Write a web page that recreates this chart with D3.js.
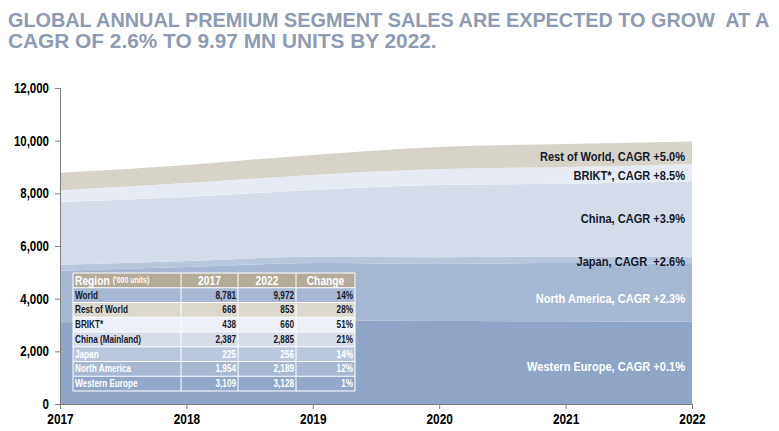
<!DOCTYPE html>
<html>
<head>
<meta charset="utf-8">
<script src="https://cdn.jsdelivr.net/npm/d3@7"></script>
<style>
  html, body { margin: 0; padding: 0; background: #ffffff; }
  svg { display: block; }
  text { font-family: "Liberation Sans", Arial, sans-serif; font-weight: bold; white-space: pre; }
</style>
</head>
<body>
<svg id="chart" width="779" height="431"></svg>
<script>
// ---- data ----
const years = [2017, 2018, 2019, 2020, 2021, 2022];
const westernEurope = [3109, 3140, 3160, 3150, 3140, 3128];
const northAmerica  = [1954, 2060, 2190, 2170, 2210, 2189];
const japan         = [225, 230, 240, 250, 255, 256];
const china         = [2387, 2430, 2540, 2750, 2755, 2885];
const brikt         = [438, 530, 570, 600, 640, 660];
const restOfWorld   = [668, 690, 760, 840, 870, 853];

const seriesKeys   = ["Western Europe", "North America", "Japan", "China", "BRIKT*", "Rest of World"];
const seriesLabels = ["Western Europe, CAGR +0.1%", "North America, CAGR +2.3%", "Japan, CAGR  +2.6%",
                      "China, CAGR +3.9%", "BRIKT*, CAGR +8.5%", "Rest of World, CAGR +5.0%"];
const yTicks = [0, 2000, 4000, 6000, 8000, 10000, 12000];

const titleLines = ["GLOBAL ANNUAL PREMIUM SEGMENT SALES ARE EXPECTED TO GROW  AT A",
                    "CAGR OF 2.6% TO 9.97 MN UNITS BY 2022."];

const tableHeader  = ["Region", "2017", "2022", "Change"];
const tableUnits   = "('000 units)";
const tableRegions = ["World", "Rest of World", "BRIKT*", "China (Mainland)", "Japan", "North America", "Western Europe"];
const table2017    = ["8,781", "668", "438", "2,387", "225", "1,954", "3,109"];
const table2022    = ["9,972", "853", "660", "2,885", "256", "2,189", "3,128"];
const tableChange  = ["14%", "28%", "51%", "21%", "14%", "12%", "1%"];

// ---- styles ----
const areaColors  = ["#8fa5c7", "#a7b8d3", "#b9c7dc", "#d3dce8", "#e7ecf4", "#d7d3c9"];
const labelColors = ["#ffffff", "#ffffff", "#141a2c", "#141a2c", "#141a2c", "#141a2c"];
const rowFills    = ["#a8b8d3", "#dcd8cd", "#edf0f6", "#d6dde9", "#bac7dc", "#a8b8d2", "#93a8c9"];
const rowText     = ["#141a2c", "#141a2c", "#141a2c", "#141a2c", "#ffffff", "#ffffff", "#ffffff"];
const NARROW = 0.82;

// horizontally condense a text element around its anchor point (Arial -> Arial Narrow proportions)
function narrow(sel, f) {
  const k = f || NARROW;
  sel.each(function () {
    const t = d3.select(this);
    const tx = +(t.attr("x") || 0), ty = +(t.attr("y") || 0);
    t.attr("x", 0).attr("y", 0).attr("transform", `translate(${tx},${ty}) scale(${k},1)`);
  });
}

const svg = d3.select("#chart");

// title: squeeze each line horizontally to the reference width
const titleWidths = [762, 429];
svg.append("g").selectAll("text").data(titleLines).join("text")
  .attr("x", 0).attr("y", 0)
  .attr("fill", "#8e9bb2").attr("font-size", 20.5)
  .text(d => d)
  .each(function (d, i) {
    const len = this.getComputedTextLength();
    d3.select(this).attr("transform", `translate(8,${27 + i * 21}) scale(${titleWidths[i] / len},1)`);
  });

// scales
const x = d3.scaleLinear().domain([2017, 2022]).range([60, 692]);
const y = d3.scaleLinear().domain([0, 12000]).range([404, 88]);

const rows = years.map((yr, i) => ({
  year: yr,
  "Western Europe": westernEurope[i],
  "North America": northAmerica[i],
  "Japan": japan[i],
  "China": china[i],
  "BRIKT*": brikt[i],
  "Rest of World": restOfWorld[i]
}));

const stack = d3.stack().keys(seriesKeys)(rows);

const area = d3.area()
  .x(d => x(d.data.year))
  .y0(d => y(d[0]))
  .y1(d => y(d[1]))
  .curve(d3.curveMonotoneX);

svg.append("g").selectAll("path").data(stack).join("path")
  .attr("d", area)
  .attr("fill", (d, i) => areaColors[i]);

// axes
const yAxis = d3.axisLeft(y).tickValues(yTicks).tickSize(5).tickPadding(6).tickFormat(d3.format(","));
const gy = svg.append("g").attr("transform", "translate(60,0)").call(yAxis);
gy.select(".domain").attr("stroke", "#7f7f7f");
gy.selectAll(".tick line").attr("stroke", "#7f7f7f");
gy.selectAll(".tick text").attr("font-size", 14).attr("fill", "#000")
  .attr("font-family", "\"Liberation Sans\", Arial, sans-serif").attr("font-weight", "bold").call(narrow);

const xAxis = d3.axisBottom(x).tickValues(years).tickSize(5).tickPadding(5).tickFormat(d3.format("d"));
const gx = svg.append("g").attr("transform", "translate(0,404)").call(xAxis);
gx.select(".domain").attr("stroke", "#7f7f7f");
gx.selectAll(".tick line").attr("stroke", "#7f7f7f");
gx.selectAll(".tick text").attr("font-size", 14.5).attr("fill", "#000")
  .attr("font-family", "\"Liberation Sans\", Arial, sans-serif").attr("font-weight", "bold").call(narrow);

// series labels at right end
const last = years.length - 1;
const labelDy = [3, 5, 1, -1, 3, 4];
svg.append("g").selectAll("text").data(stack).join("text")
  .attr("x", 685)
  .attr("y", (d, i) => (y(d[last][0]) + y(d[last][1])) / 2 + labelDy[i])
  .attr("dy", "0.35em")
  .attr("text-anchor", "end")
  .attr("font-size", 13.5)
  .attr("fill", (d, i) => labelColors[i])
  .text((d, i) => seriesLabels[i])
  .call(narrow);

// table
const colX = [73, 181, 238, 296, 355];
const rowH = 14.75;
const tTop = 273;
const tg = svg.append("g");

// header
tg.append("rect").attr("x", colX[0]).attr("y", tTop).attr("width", colX[4] - colX[0]).attr("height", rowH)
  .attr("fill", "#b4ab9b");
const hdr = tg.append("text").attr("x", colX[0] + 2).attr("y", tTop + rowH / 2).attr("dy", "0.35em")
  .attr("fill", "#fff").attr("font-size", 12.5).text(tableHeader[0]);
const hdrW = hdr.node().getComputedTextLength() * NARROW;
hdr.call(narrow);
tg.append("text").attr("x", colX[0] + 2 + hdrW + 3).attr("y", tTop + rowH / 2).attr("dy", "0.35em")
  .attr("fill", "#fff").attr("font-size", 8.5).text(tableUnits).call(narrow);
tableHeader.slice(1).forEach((h, j) => {
  tg.append("text").attr("x", (colX[j + 1] + colX[j + 2]) / 2).attr("y", tTop + rowH / 2).attr("dy", "0.35em")
    .attr("text-anchor", "middle").attr("fill", "#fff").attr("font-size", 12.5).text(h).call(narrow);
});

tableRegions.forEach((r, i) => {
  const ry = tTop + rowH * (i + 1);
  tg.append("rect").attr("x", colX[0]).attr("y", ry).attr("width", colX[4] - colX[0]).attr("height", rowH)
    .attr("fill", rowFills[i]);
  const cells = [r, table2017[i], table2022[i], tableChange[i]];
  cells.forEach((c, j) => {
    tg.append("text")
      .attr("x", j === 0 ? colX[0] + 2 : colX[j + 1] - 2)
      .attr("y", ry + rowH / 2).attr("dy", "0.35em")
      .attr("text-anchor", j === 0 ? "start" : "end")
      .attr("fill", rowText[i]).attr("font-size", 10)
      .text(c).call(narrow);
  });
});

// white grid lines
for (let i = 0; i <= 8; i++) {
  tg.append("line").attr("x1", colX[0]).attr("x2", colX[4])
    .attr("y1", tTop + rowH * i).attr("y2", tTop + rowH * i)
    .attr("stroke", "#fff").attr("stroke-width", 1);
}
colX.forEach(cx => {
  tg.append("line").attr("x1", cx).attr("x2", cx).attr("y1", tTop).attr("y2", tTop + rowH * 8)
    .attr("stroke", "#fff").attr("stroke-width", 1);
});
</script>
</body>
</html>
